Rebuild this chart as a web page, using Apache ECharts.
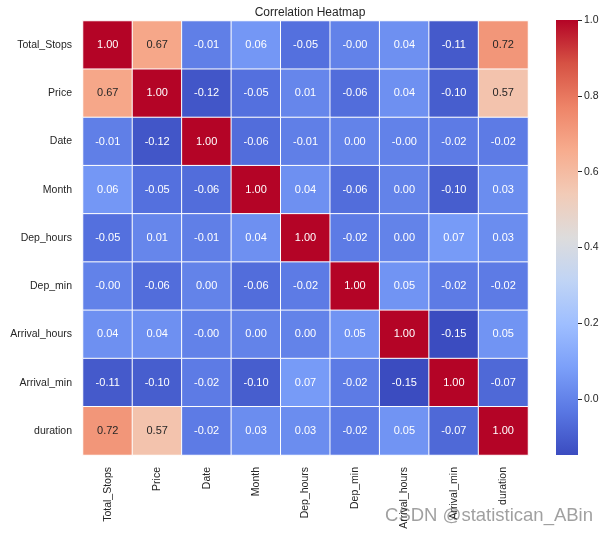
<!DOCTYPE html>
<html><head><meta charset="utf-8">
<script src="https://cdn.jsdelivr.net/npm/echarts@6/dist/echarts.min.js"></script>
<style>html,body{margin:0;padding:0;background:#fff}#c{width:609px;height:537px}</style>
</head><body><div id="c"></div>
<script>
const categories = ['Total_Stops','Price','Date','Month','Dep_hours','Dep_min','Arrival_hours','Arrival_min','duration'];
const row_Total_Stops   = [1.00, 0.67, -0.01, 0.06, -0.05, -0.001, 0.04, -0.11, 0.72];
const row_Price         = [0.67, 1.00, -0.12, -0.05, 0.01, -0.06, 0.04, -0.10, 0.57];
const row_Date          = [-0.01, -0.12, 1.00, -0.06, -0.01, 0.001, -0.001, -0.02, -0.02];
const row_Month         = [0.06, -0.05, -0.06, 1.00, 0.04, -0.06, 0.001, -0.10, 0.03];
const row_Dep_hours     = [-0.05, 0.01, -0.01, 0.04, 1.00, -0.02, 0.001, 0.07, 0.03];
const row_Dep_min       = [-0.001, -0.06, 0.001, -0.06, -0.02, 1.00, 0.05, -0.02, -0.02];
const row_Arrival_hours = [0.04, 0.04, -0.001, 0.001, 0.001, 0.05, 1.00, -0.15, 0.05];
const row_Arrival_min   = [-0.11, -0.10, -0.02, -0.10, 0.07, -0.02, -0.15, 1.00, -0.07];
const row_duration      = [0.72, 0.57, -0.02, 0.03, 0.03, -0.02, 0.05, -0.07, 1.00];
const colorbarTicks = [0.0, 0.2, 0.4, 0.6, 0.8, 1.0];
const vmin = -0.147, vmax = 1.0;

const matrix = [row_Total_Stops,row_Price,row_Date,row_Month,row_Dep_hours,row_Dep_min,row_Arrival_hours,row_Arrival_min,row_duration];
const coolwarm = ['#3b4cc0','#5977e3','#7b9ff9','#9ebeff','#c0d4f5','#dddcdc','#f2cbb7','#f7ac8e','#ee8468','#d65244','#b40426'];
const FONT = 'Liberation Sans';

const data = [];
matrix.forEach((row, r) => row.forEach((v, c) => {
  const dark = v > 0.3 && v < 0.9;
  data.push({value: [c, r, v], label: {color: dark ? '#262626' : '#ffffff', fontFamily: FONT}});
}));

const chart = echarts.init(document.getElementById('c'));
chart.setOption({
  animation: false,
  backgroundColor: '#fff',
  textStyle: {fontFamily: FONT},
  title: {text: 'Correlation Heatmap', left: 305, top: 2, textAlign: 'center',
    textStyle: {fontSize: 12, fontWeight: 'normal', color: '#262626', fontFamily: FONT}},
  grid: [
    {left: 83, top: 21, width: 445, height: 434},
    {left: 556, top: 20, width: 22, height: 435}
  ],
  xAxis: [
    {type: 'category', data: categories, gridIndex: 0, position: 'bottom',
      axisLine: {show: false}, axisTick: {show: false}, splitLine: {show: false},
      axisLabel: {rotate: 90, margin: 12, fontSize: 10.5, color: '#262626', fontFamily: FONT, interval: 0}},
    {type: 'value', gridIndex: 1, show: false, min: 0, max: 1}
  ],
  yAxis: [
    {type: 'category', data: categories, gridIndex: 0, inverse: true,
      axisLine: {show: false}, axisTick: {show: false}, splitLine: {show: false},
      axisLabel: {margin: 11, fontSize: 10.5, color: '#262626', fontFamily: FONT, interval: 0}},
    {type: 'value', gridIndex: 1, position: 'right', min: vmin, max: vmax,
      axisLine: {show: false, onZero: false}, splitLine: {show: false},
      axisTick: {show: true, length: 4, lineStyle: {color: '#262626'}, customValues: colorbarTicks},
      axisLabel: {margin: 6, fontSize: 10.5, color: '#262626', fontFamily: FONT,
        customValues: colorbarTicks, formatter: v => Number(v).toFixed(1)}}
  ],
  visualMap: {
    type: 'continuous', min: vmin, max: vmax, show: false,
    seriesIndex: 0, inRange: {color: coolwarm}
  },
  graphic: [{
    type: 'text', right: 16, top: 506,
    style: {text: 'CSDN @statistican_ABin', fontSize: 18.5, fontFamily: FONT,
      fill: 'rgba(120,120,120,0.7)'}
  }],
  series: [{
    type: 'heatmap', xAxisIndex: 0, yAxisIndex: 0, data: data,
    itemStyle: {borderColor: '#ffffff', borderWidth: 1},
    label: {show: true, fontSize: 11, fontFamily: FONT,
      formatter: p => p.value[2].toFixed(2)},
    emphasis: {disabled: true}
  }, {
    type: 'custom', xAxisIndex: 1, yAxisIndex: 1, silent: true,
    data: [[vmin, vmax]],
    renderItem: (params, api) => {
      const top = api.coord([0, api.value(1)]);
      const bot = api.coord([0, api.value(0)]);
      const cs = params.coordSys;
      const stops = coolwarm.map((c, i) => ({offset: i / (coolwarm.length - 1), color: c}));
      return {
        type: 'rect',
        shape: {x: cs.x, y: top[1], width: cs.width, height: bot[1] - top[1]},
        style: {fill: new echarts.graphic.LinearGradient(0, 1, 0, 0, stops)}
      };
    }
  }]
});
</script></body></html>
